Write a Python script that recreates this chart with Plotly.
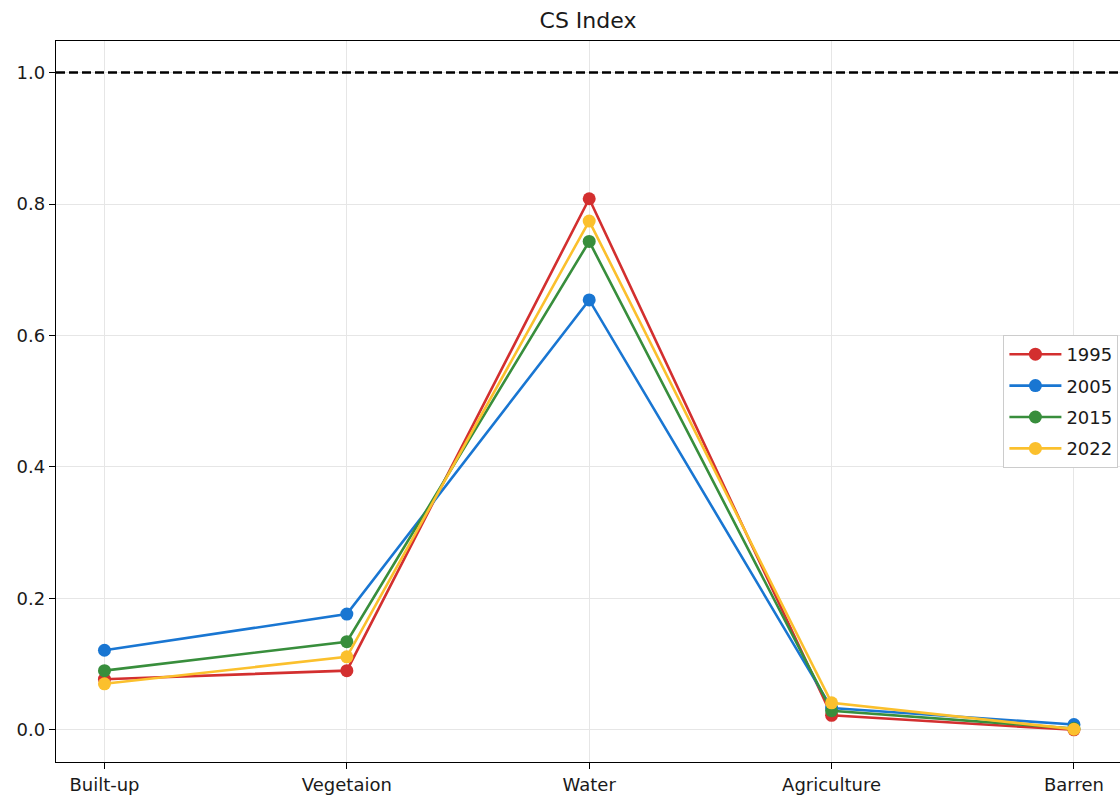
import plotly.graph_objects as go

categories = ["Built-up", "Vegetaion", "Water", "Agriculture", "Barren"]
years = ["1995", "2005", "2015", "2022"]
cs_1995 = [0.077, 0.090, 0.808, 0.022, 0.000]
cs_2005 = [0.121, 0.176, 0.654, 0.033, 0.008]
cs_2015 = [0.090, 0.134, 0.743, 0.029, 0.002]
cs_2022 = [0.070, 0.111, 0.774, 0.041, 0.001]
series = [cs_1995, cs_2005, cs_2015, cs_2022]
colors = ["#d32f2f", "#1976d2", "#388e3c", "#fbc02d"]
y_ticks = [0.0, 0.2, 0.4, 0.6, 0.8, 1.0]
reference_value = 1.0

FONT = "DejaVu Sans"

fig = go.Figure()
for name, vals, col in zip(years, series, colors):
    fig.add_trace(go.Scatter(
        x=list(range(len(categories))), y=vals, name=name, mode="lines+markers",
        legendgroup=name,
        line=dict(color=col, width=2.6),
        marker=dict(color=col, size=13),
    ))

fig.add_hline(y=reference_value, line=dict(color="black", width=2.4, dash="9px,4px"))

fig.update_layout(
    width=1120, height=800,
    margin=dict(l=56, r=0, t=41, b=38),
    paper_bgcolor="white", plot_bgcolor="white",
    font=dict(family=FONT, size=18, color="#1a1a1a"),
    title=dict(text="CS Index", x=0.5, xref="paper", xanchor="center",
               y=1 - 20 / 800, yanchor="middle", font=dict(size=22, family=FONT, color="#1a1a1a")),
    legend=dict(x=0.9985, xanchor="right", y=0.5, yanchor="middle",
                bordercolor="#cccccc", borderwidth=1, bgcolor="white",
                font=dict(size=18, family=FONT, color="#1a1a1a"), itemwidth=52,
                traceorder="grouped", tracegroupgap=5),
    showlegend=True,
)
fig.update_xaxes(
    range=[-0.2, 4.19], tickmode="array", tickvals=list(range(len(categories))),
    ticktext=categories, showgrid=True, gridcolor="#e6e6e6", gridwidth=1,
    showline=True, linecolor="black", linewidth=1.3, mirror=True,
    ticks="outside", ticklen=6, tickcolor="black", tickwidth=1.3, zeroline=False,
)
fig.update_yaxes(
    range=[-0.049, 1.048], tickmode="array", tickvals=y_ticks,
    ticktext=[f"{v:.1f}" for v in y_ticks], showgrid=True, gridcolor="#e6e6e6",
    gridwidth=1, showline=True, linecolor="black", linewidth=1.3,
    ticks="outside", ticklen=6, tickcolor="black", tickwidth=1.3, zeroline=False,
)

fig.write_html("out.html")
